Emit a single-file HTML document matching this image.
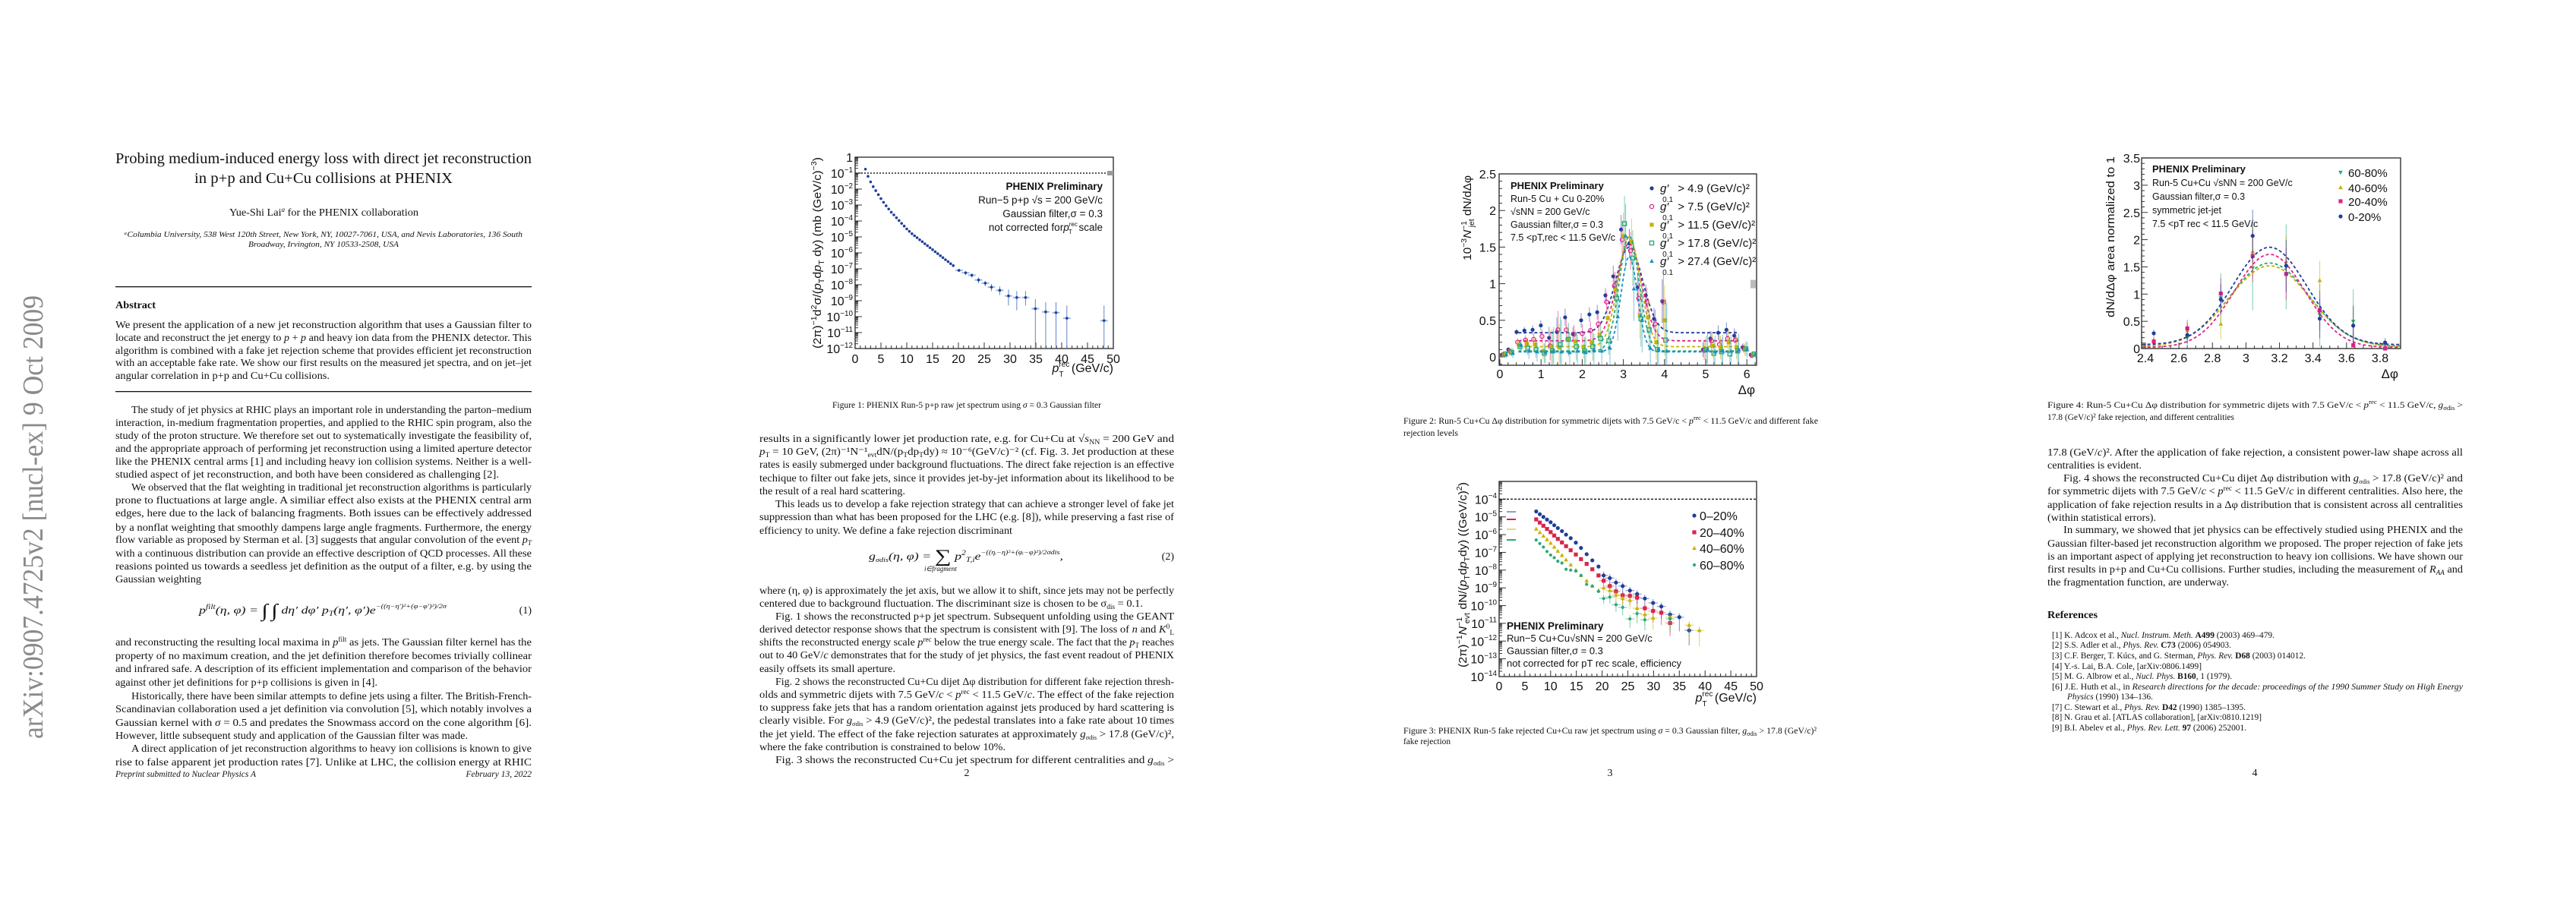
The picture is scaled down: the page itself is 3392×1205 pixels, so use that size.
<!DOCTYPE html>
<html><head><meta charset="utf-8"><title>Probing medium-induced energy loss with direct jet reconstruction</title>
<style>
html,body{margin:0;padding:0;background:#fff;}
body{width:3392px;height:1200px;overflow:hidden;}
svg text{font-family:"Liberation Serif",serif;fill:#111;}
.b{font-size:14px;}
.cap{font-size:12px;}
.ref{font-size:11.5px;}
.sans{font-family:"Liberation Sans",sans-serif !important;}
.it{font-style:italic;}
.bd{font-weight:bold;}
</style></head>
<body>
<svg id="doc" width="3392" height="1200" viewBox="0 0 3392 1200" xmlns="http://www.w3.org/2000/svg">
<rect x="0" y="0" width="3392" height="1200" fill="#fff"/>

<!-- arXiv stamp -->
<text transform="translate(56,973) rotate(-90)" style="font-size:38px;fill:#8a8a8a" textLength="584" lengthAdjust="spacingAndGlyphs">arXiv:0907.4725v2  [nucl-ex]  9 Oct 2009</text>

<!-- PAGE 1 -->
<g>
<text x="152" y="215" style="font-size:20px" textLength="548" lengthAdjust="spacingAndGlyphs">Probing medium-induced energy loss with direct jet reconstruction</text>
<text x="256" y="241" style="font-size:20px" textLength="340" lengthAdjust="spacingAndGlyphs">in p+p and Cu+Cu collisions at PHENIX</text>
<text x="302" y="284" class="b" textLength="249" lengthAdjust="spacingAndGlyphs">Yue-Shi Lai<tspan class="it" font-size="9" dy="-5">a</tspan><tspan dy="5"> for the PHENIX collaboration</tspan></text>
<text x="163" y="312" class="it" style="font-size:11px" textLength="525" lengthAdjust="spacingAndGlyphs">ᵃColumbia University, 538 West 120th Street, New York, NY, 10027-7061, USA, and Nevis Laboratories, 136 South</text>
<text x="327" y="325" class="it" style="font-size:11px" textLength="198" lengthAdjust="spacingAndGlyphs">Broadway, Irvington, NY 10533-2508, USA</text>
<rect x="152" y="377" width="548" height="1.3" fill="#111"/>
<text x="152" y="406" class="b bd" textLength="53" lengthAdjust="spacingAndGlyphs">Abstract</text>
<text x="152" y="432" class="b" textLength="548" lengthAdjust="spacingAndGlyphs">We present the application of a new jet reconstruction algorithm that uses a Gaussian filter to</text>
<text x="152" y="449" class="b" textLength="548" lengthAdjust="spacingAndGlyphs">locate and reconstruct the jet energy to <tspan class="it">p</tspan> + <tspan class="it">p</tspan> and heavy ion data from the PHENIX detector. This</text>
<text x="152" y="466" class="b" textLength="548" lengthAdjust="spacingAndGlyphs">algorithm is combined with a fake jet rejection scheme that provides efficient jet reconstruction</text>
<text x="152" y="482" class="b" textLength="548" lengthAdjust="spacingAndGlyphs">with an acceptable fake rate. We show our first results on the measured jet spectra, and on jet–jet</text>
<text x="152" y="499" class="b" textLength="282" lengthAdjust="spacingAndGlyphs">angular correlation in p+p and Cu+Cu collisions.</text>
<rect x="152" y="515" width="548" height="1.3" fill="#111"/>

<text x="173" y="544" class="b" textLength="527" lengthAdjust="spacingAndGlyphs">The study of jet physics at RHIC plays an important role in understanding the parton–medium</text>
<text x="152" y="561" class="b" textLength="548" lengthAdjust="spacingAndGlyphs">interaction, in-medium fragmentation properties, and applied to the RHIC spin program, also the</text>
<text x="152" y="578" class="b" textLength="548" lengthAdjust="spacingAndGlyphs">study of the proton structure. We therefore set out to systematically investigate the feasibility of,</text>
<text x="152" y="595" class="b" textLength="548" lengthAdjust="spacingAndGlyphs">and the appropriate approach of performing jet reconstruction using a limited aperture detector</text>
<text x="152" y="612" class="b" textLength="548" lengthAdjust="spacingAndGlyphs">like the PHENIX central arms [1] and including heavy ion collision systems. Neither is a well-</text>
<text x="152" y="629" class="b" textLength="505" lengthAdjust="spacingAndGlyphs">studied aspect of jet reconstruction, and both have been considered as challenging [2].</text>
<text x="173" y="646" class="b" textLength="527" lengthAdjust="spacingAndGlyphs">We observed that the flat weighting in traditional jet reconstruction algorithms is particularly</text>
<text x="152" y="663" class="b" textLength="548" lengthAdjust="spacingAndGlyphs">prone to fluctuations at large angle.  A similiar effect also exists at the PHENIX central arm</text>
<text x="152" y="680" class="b" textLength="548" lengthAdjust="spacingAndGlyphs">edges, here due to the lack of balancing fragments.  Both issues can be effectively addressed</text>
<text x="152" y="699" class="b" textLength="548" lengthAdjust="spacingAndGlyphs">by a nonflat weighting that smoothly dampens large angle fragments.  Furthermore, the energy</text>
<text x="152" y="715" class="b" textLength="548" lengthAdjust="spacingAndGlyphs">flow variable as proposed by Sterman et al. [3] suggests that angular convolution of the event <tspan class="it">p<tspan font-size="9" dy="3">T</tspan></tspan></text>
<text x="152" y="733" class="b" textLength="548" lengthAdjust="spacingAndGlyphs">with a continuous distribution can provide an effective description of QCD processes.  All these</text>
<text x="152" y="750" class="b" textLength="548" lengthAdjust="spacingAndGlyphs">reasions pointed us towards a seedless jet definition as the output of a filter, e.g.  by using the</text>
<text x="152" y="767" class="b" textLength="113" lengthAdjust="spacingAndGlyphs">Gaussian weighting</text>
<text x="262" y="808" class="b it" textLength="326" lengthAdjust="spacingAndGlyphs">p<tspan font-size="9" dy="-6">filt</tspan><tspan dy="6">(η, φ) = </tspan><tspan font-size="24" dy="4">∫</tspan><tspan dy="-4">  </tspan><tspan font-size="24" dy="4">∫</tspan><tspan dy="-4"> dη′ dφ′ p</tspan><tspan font-size="9" dy="3">T</tspan><tspan dy="-3">(η′, φ′)e</tspan><tspan font-size="8" dy="-7">−((η−η′)²+(φ−φ′)²)/2σ</tspan></text>
<text x="700" y="808" class="b" text-anchor="end">(1)</text>
<text x="152" y="850" class="b" textLength="548" lengthAdjust="spacingAndGlyphs">and reconstructing the resulting local maxima in <tspan class="it">p</tspan><tspan font-size="9" dy="-5">filt</tspan><tspan dy="5"> as jets.  The Gaussian filter kernel has the</tspan></text>
<text x="152" y="868" class="b" textLength="548" lengthAdjust="spacingAndGlyphs">property of no maximum creation, and the jet definition therefore becomes trivially collinear</text>
<text x="152" y="885" class="b" textLength="548" lengthAdjust="spacingAndGlyphs">and infrared safe.  A description of its efficient implementation and comparison of the behavior</text>
<text x="152" y="903" class="b" textLength="345" lengthAdjust="spacingAndGlyphs">against other jet definitions for p+p collisions is given in [4].</text>
<text x="173" y="921" class="b" textLength="527" lengthAdjust="spacingAndGlyphs">Historically, there have been similar attempts to define jets using a filter. The British-French-</text>
<text x="152" y="938" class="b" textLength="548" lengthAdjust="spacingAndGlyphs">Scandinavian collaboration used a jet definition via convolution [5], which notably involves a</text>
<text x="152" y="956" class="b" textLength="548" lengthAdjust="spacingAndGlyphs">Gaussian kernel with <tspan class="it">σ</tspan> = 0.5 and predates the Snowmass accord on the cone algorithm [6].</text>
<text x="152" y="973" class="b" textLength="464" lengthAdjust="spacingAndGlyphs">However, little subsequent study and application of the Gaussian filter was made.</text>
<text x="173" y="990" class="b" textLength="527" lengthAdjust="spacingAndGlyphs">A direct application of jet reconstruction algorithms to heavy ion collisions is known to give</text>
<text x="152" y="1008" class="b" textLength="548" lengthAdjust="spacingAndGlyphs">rise to false apparent jet production rates [7].  Unlike at LHC, the collision energy at RHIC</text>
<text x="152" y="1023" class="it" style="font-size:11.5px" textLength="185" lengthAdjust="spacingAndGlyphs">Preprint submitted to Nuclear Physics A</text>
<text x="700" y="1023" class="it" style="font-size:11.5px" text-anchor="end">February 13, 2022</text>
</g>

<!-- PAGE 2 -->
<g>
<g id="fig1"></g>
<text x="1096" y="537" class="cap" textLength="354" lengthAdjust="spacingAndGlyphs">Figure 1: PHENIX Run-5 p+p raw jet spectrum using <tspan class="it">σ</tspan> = 0.3 Gaussian filter</text>
<text x="1000" y="582" class="b" textLength="546" lengthAdjust="spacingAndGlyphs">results in a significantly lower jet production rate, e.g.  for Cu+Cu at √<tspan class="it">s</tspan><tspan font-size="9" dy="3">NN</tspan><tspan dy="-3"> = 200 GeV and</tspan></text>
<text x="1000" y="599" class="b" textLength="546" lengthAdjust="spacingAndGlyphs"><tspan class="it">p</tspan><tspan font-size="9" dy="3">T</tspan><tspan dy="-3"> = 10 GeV, (2π)⁻¹N⁻¹</tspan><tspan font-size="9" dy="3">evt</tspan><tspan dy="-3">dN/(p</tspan><tspan font-size="9" dy="3">T</tspan><tspan dy="-3">dp</tspan><tspan font-size="9" dy="3">T</tspan><tspan dy="-3">dy) ≈ 10⁻⁶(GeV/c)⁻² (cf. Fig. 3.  Jet production at these</tspan></text>
<text x="1000" y="616" class="b" textLength="546" lengthAdjust="spacingAndGlyphs">rates is easily submerged under background fluctuations. The direct fake rejection is an effective</text>
<text x="1000" y="634" class="b" textLength="546" lengthAdjust="spacingAndGlyphs">techique to filter out fake jets, since it provides jet-by-jet information about its likelihood to be</text>
<text x="1000" y="651" class="b" textLength="192" lengthAdjust="spacingAndGlyphs">the result of a real hard scattering.</text>
<text x="1021" y="668" class="b" textLength="525" lengthAdjust="spacingAndGlyphs">This leads us to develop a fake rejection strategy that can achieve a stronger level of fake jet</text>
<text x="1000" y="685" class="b" textLength="546" lengthAdjust="spacingAndGlyphs">suppression than what has been proposed for the LHC (e.g. [8]), while preserving a fast rise of</text>
<text x="1000" y="703" class="b" textLength="333" lengthAdjust="spacingAndGlyphs">efficiency to unity. We define a fake rejection discriminant</text>
<text x="1144" y="737" class="b it" textLength="256" lengthAdjust="spacingAndGlyphs">g<tspan font-size="8" dy="3">σdis</tspan><tspan dy="-3">(η, φ) =   </tspan><tspan font-size="24" dy="3">∑</tspan><tspan dy="-3">   p</tspan><tspan font-size="9" dy="-6">2</tspan><tspan font-size="9" dy="9">T,i</tspan><tspan dy="-3">e</tspan><tspan font-size="8" dy="-7">−((ηᵢ−η)²+(φᵢ−φ)²)/2σdis</tspan><tspan dy="7">,</tspan></text>
<text x="1217" y="752" class="it" style="font-size:9px">i∈fragment</text>
<text x="1546" y="737" class="b" text-anchor="end">(2)</text>
<text x="1000" y="782" class="b" textLength="546" lengthAdjust="spacingAndGlyphs">where (η, φ) is approximately the jet axis, but we allow it to shift, since jets may not be perfectly</text>
<text x="1000" y="799" class="b" textLength="505" lengthAdjust="spacingAndGlyphs">centered due to background fluctuation. The discriminant size is chosen to be σ<tspan font-size="9" dy="3">dis</tspan><tspan dy="-3"> = 0.1.</tspan></text>
<text x="1021" y="816" class="b" textLength="525" lengthAdjust="spacingAndGlyphs">Fig. 1 shows the reconstructed p+p jet spectrum.  Subsequent unfolding using the GEANT</text>
<text x="1000" y="833" class="b" textLength="546" lengthAdjust="spacingAndGlyphs">derived detector response shows that the spectrum is consistent with [9]. The loss of <tspan class="it">n</tspan> and <tspan class="it">K</tspan><tspan font-size="9" dy="-5">0</tspan><tspan font-size="9" dy="8">L</tspan></text>
<text x="1000" y="850" class="b" textLength="546" lengthAdjust="spacingAndGlyphs">shifts the reconstructed energy scale <tspan class="it">p</tspan><tspan font-size="9" dy="-5">rec</tspan><tspan dy="5"> below the true energy scale. The fact that the </tspan><tspan class="it">p</tspan><tspan font-size="9" dy="3">T</tspan><tspan dy="-3"> reaches</tspan></text>
<text x="1000" y="867" class="b" textLength="546" lengthAdjust="spacingAndGlyphs">out to 40 GeV/<tspan class="it">c</tspan> demonstrates that for the study of jet physics, the fast event readout of PHENIX</text>
<text x="1000" y="885" class="b" textLength="179" lengthAdjust="spacingAndGlyphs">easily offsets its small aperture.</text>
<text x="1021" y="902" class="b" textLength="525" lengthAdjust="spacingAndGlyphs">Fig. 2 shows the reconstructed Cu+Cu dijet Δφ distribution for different fake rejection thresh-</text>
<text x="1000" y="919" class="b" textLength="546" lengthAdjust="spacingAndGlyphs">olds and symmetric dijets with 7.5 GeV/<tspan class="it">c</tspan> &lt; <tspan class="it">p</tspan><tspan font-size="9" dy="-5">rec</tspan><tspan dy="5"> &lt; 11.5 GeV/</tspan><tspan class="it">c</tspan>. The effect of the fake rejection</text>
<text x="1000" y="936" class="b" textLength="546" lengthAdjust="spacingAndGlyphs">to suppress fake jets that has a random orientation against jets produced by hard scattering is</text>
<text x="1000" y="953" class="b" textLength="546" lengthAdjust="spacingAndGlyphs">clearly visible.  For <tspan class="it">g</tspan><tspan font-size="8" dy="3">σdis</tspan><tspan dy="-3"> &gt; 4.9 (GeV/c)², the pedestal translates into a fake rate about 10 times</tspan></text>
<text x="1000" y="971" class="b" textLength="546" lengthAdjust="spacingAndGlyphs">the jet yield.  The effect of the fake rejection saturates at approximately <tspan class="it">g</tspan><tspan font-size="8" dy="3">σdis</tspan><tspan dy="-3"> &gt; 17.8 (GeV/c)²,</tspan></text>
<text x="1000" y="988" class="b" textLength="324" lengthAdjust="spacingAndGlyphs">where the fake contribution is constrained to below 10%.</text>
<text x="1021" y="1005" class="b" textLength="525" lengthAdjust="spacingAndGlyphs">Fig. 3 shows the reconstructed Cu+Cu jet spectrum for different centralities and <tspan class="it">g</tspan><tspan font-size="8" dy="3">σdis</tspan><tspan dy="-3">  &gt;</tspan></text>
<text x="1273" y="1022" class="b" text-anchor="middle">2</text>
</g>

<!-- PAGE 3 -->
<g>
<g id="fig2"></g>
<text x="1848" y="558" class="cap" textLength="546" lengthAdjust="spacingAndGlyphs">Figure 2:  Run-5 Cu+Cu Δφ distribution for symmetric dijets with 7.5 GeV/c &lt; <tspan class="it">p</tspan><tspan font-size="8" dy="-5">rec</tspan><tspan dy="5"> &lt; 11.5 GeV/c and different fake</tspan></text>
<text x="1848" y="574" class="cap" textLength="72" lengthAdjust="spacingAndGlyphs">rejection levels</text>
<g id="fig3"></g>
<text x="1848" y="966" class="cap" textLength="544" lengthAdjust="spacingAndGlyphs">Figure 3: PHENIX Run-5 fake rejected Cu+Cu raw jet spectrum using <tspan class="it">σ</tspan> = 0.3 Gaussian filter, <tspan class="it">g</tspan><tspan font-size="8" dy="3">σdis</tspan><tspan dy="-3"> &gt; 17.8 (GeV/c)²</tspan></text>
<text x="1848" y="980" class="cap" textLength="62" lengthAdjust="spacingAndGlyphs">fake rejection</text>
<text x="2120" y="1022" class="b" text-anchor="middle">3</text>
</g>

<!-- PAGE 4 -->
<g>
<g id="fig4"></g>
<text x="2696" y="537" class="cap" textLength="547" lengthAdjust="spacingAndGlyphs">Figure 4:  Run-5 Cu+Cu Δφ distribution for symmetric dijets with 7.5 GeV/c  &lt;  <tspan class="it">p</tspan><tspan font-size="8" dy="-5">rec</tspan><tspan dy="5">  &lt;  11.5 GeV/c,  </tspan><tspan class="it">g</tspan><tspan font-size="8" dy="3">σdis</tspan><tspan dy="-3">  &gt;</tspan></text>
<text x="2696" y="553" class="cap" textLength="246" lengthAdjust="spacingAndGlyphs">17.8 (GeV/c)² fake rejection, and different centralities</text>
<text x="2696" y="600" class="b" textLength="547" lengthAdjust="spacingAndGlyphs">17.8 (GeV/<tspan class="it">c</tspan>)².  After the application of fake rejection, a consistent power-law shape across all</text>
<text x="2696" y="617" class="b" textLength="124" lengthAdjust="spacingAndGlyphs">centralities is evident.</text>
<text x="2717" y="634" class="b" textLength="526" lengthAdjust="spacingAndGlyphs">Fig. 4 shows the reconstructed Cu+Cu dijet Δφ distribution with <tspan class="it">g</tspan><tspan font-size="8" dy="3">σdis</tspan><tspan dy="-3"> &gt; 17.8 (GeV/c)² and</tspan></text>
<text x="2696" y="651" class="b" textLength="547" lengthAdjust="spacingAndGlyphs">for symmetric dijets with 7.5 GeV/<tspan class="it">c</tspan> &lt; <tspan class="it">p</tspan><tspan font-size="9" dy="-5">rec</tspan><tspan dy="5"> &lt; 11.5 GeV/</tspan><tspan class="it">c</tspan> in different centralities.  Also here, the</text>
<text x="2696" y="669" class="b" textLength="547" lengthAdjust="spacingAndGlyphs">application of fake rejection results in a Δφ distribution that is consistent across all centralities</text>
<text x="2696" y="686" class="b" textLength="143" lengthAdjust="spacingAndGlyphs">(within statistical errors).</text>
<text x="2717" y="702" class="b" textLength="526" lengthAdjust="spacingAndGlyphs">In summary, we showed that jet physics can be effectively studied using PHENIX and the</text>
<text x="2696" y="720" class="b" textLength="547" lengthAdjust="spacingAndGlyphs">Gaussian filter-based jet reconstruction algorithm we proposed. The proper rejection of fake jets</text>
<text x="2696" y="737" class="b" textLength="547" lengthAdjust="spacingAndGlyphs">is an important aspect of applying jet reconstruction to heavy ion collisions. We have shown our</text>
<text x="2696" y="754" class="b" textLength="547" lengthAdjust="spacingAndGlyphs">first results in p+p and Cu+Cu collisions. Further studies, including the measurement of <tspan class="it">R</tspan><tspan font-size="9" dy="3" class="it">AA</tspan><tspan dy="-3"> and</tspan></text>
<text x="2696" y="771" class="b" textLength="239" lengthAdjust="spacingAndGlyphs">the fragmentation function, are underway.</text>
<text x="2696" y="814" class="b bd" textLength="66" lengthAdjust="spacingAndGlyphs">References</text>
<text x="2702" y="840" class="ref" textLength="293" lengthAdjust="spacingAndGlyphs">[1]  K. Adcox et al., <tspan class="it">Nucl. Instrum. Meth.</tspan> <tspan class="bd">A499</tspan> (2003) 469–479.</text>
<text x="2702" y="853" class="ref" textLength="236" lengthAdjust="spacingAndGlyphs">[2]  S.S. Adler et al., <tspan class="it">Phys. Rev.</tspan> <tspan class="bd">C73</tspan> (2006) 054903.</text>
<text x="2702" y="867" class="ref" textLength="334" lengthAdjust="spacingAndGlyphs">[3]  C.F. Berger, T. Kúcs, and G. Sterman, <tspan class="it">Phys. Rev.</tspan> <tspan class="bd">D68</tspan> (2003) 014012.</text>
<text x="2702" y="881" class="ref" textLength="197" lengthAdjust="spacingAndGlyphs">[4]  Y.-s. Lai, B.A. Cole, [arXiv:0806.1499]</text>
<text x="2702" y="894" class="ref" textLength="237" lengthAdjust="spacingAndGlyphs">[5]  M. G. Albrow et al., <tspan class="it">Nucl. Phys.</tspan> <tspan class="bd">B160</tspan>, 1 (1979).</text>
<text x="2702" y="908" class="ref" textLength="541" lengthAdjust="spacingAndGlyphs">[6]  J.E. Huth et al., in <tspan class="it">Research directions for the decade: proceedings of the 1990 Summer Study on High Energy</tspan></text>
<text x="2722" y="921" class="ref" textLength="113" lengthAdjust="spacingAndGlyphs"><tspan class="it">Physics</tspan> (1990) 134–136.</text>
<text x="2702" y="935" class="ref" textLength="255" lengthAdjust="spacingAndGlyphs">[7]  C. Stewart et al., <tspan class="it">Phys. Rev.</tspan> <tspan class="bd">D42</tspan> (1990) 1385–1395.</text>
<text x="2702" y="948" class="ref" textLength="276" lengthAdjust="spacingAndGlyphs">[8]  N. Grau et al. [ATLAS collaboration], [arXiv:0810.1219]</text>
<text x="2702" y="962" class="ref" textLength="256" lengthAdjust="spacingAndGlyphs">[9]  B.I. Abelev et al., <tspan class="it">Phys. Rev. Lett.</tspan> <tspan class="bd">97</tspan> (2006) 252001.</text>
<text x="2969" y="1022" class="b" text-anchor="middle">4</text>
</g>
</svg>

<script>
// ===== Figure 1 data: p+p raw jet spectrum (log10 of yield) =====
const f1DenseX = [2,2.5,3,3.5,4,4.5,5,5.5,6,6.5,7,7.5,8,8.5,9,9.5,10,10.5,11,11.5,12,12.5,13,13.5,14,14.5,15,15.5,16,16.5,17,17.5,18,18.5,19];
const f1DenseLog = [-0.75,-1.2,-1.55,-1.85,-2.1,-2.35,-2.6,-2.83,-3.05,-3.25,-3.45,-3.62,-3.8,-3.97,-4.15,-4.32,-4.5,-4.65,-4.8,-4.93,-5.05,-5.18,-5.3,-5.43,-5.55,-5.68,-5.8,-5.93,-6.05,-6.18,-6.3,-6.43,-6.55,-6.68,-6.8];
const f1SparseX = [20.1,21.4,22.6,23.9,25.2,26.4,28,29.7,31.3,33,34.9,36.9,38.9,41,48.2];
const f1SparseLog = [-7.1,-7.25,-7.4,-7.7,-7.9,-8.15,-8.35,-8.7,-8.8,-8.8,-9.5,-9.7,-9.75,-10.1,-10.25];
const f1SparseHi = [-7.0,-7.15,-7.3,-7.55,-7.75,-7.95,-8.1,-8.3,-8.4,-8.4,-8.9,-9.1,-9.1,-9.3,-9.3];
const f1SparseLo = [-7.2,-7.4,-7.55,-7.9,-8.1,-8.4,-8.65,-9.3,-9.6,-9.3,-12,-12,-12,-12,-12];
const f1XTicks = [0,5,10,15,20,25,30,35,40,45,50];
const f1YDecades = [0,-1,-2,-3,-4,-5,-6,-7,-8,-9,-10,-11,-12];

// ===== Figure 2 data: Cu+Cu delta-phi for fake rejection thresholds =====
const f2X = [0.1,0.26,0.46,0.65,0.85,1.05,1.25,1.44,1.64,1.83,2.03,2.23,2.42,2.62,2.81,3.0,3.2,3.4,3.6,3.8,4.0,4.99,5.17,5.36,5.56,5.75,5.95,6.15];
const f2Blue = [0.03,0.1,0.34,0.36,0.37,0.43,0.26,0.34,0.54,0.31,0.5,0.58,0.61,0.84,1.1,1.74,1.55,0.95,0.84,0.52,0.76,0.1,0.25,0.33,0.37,0.29,0.13,0.03];
const f2Magenta = [0.03,0.08,0.2,0.23,0.24,0.28,0.15,0.37,0.37,0.31,0.32,0.36,0.45,0.75,0.97,1.6,1.45,0.8,0.75,0.45,0.75,0.09,0.22,0.17,0.25,0.23,0.12,0.02];
const f2Yellow = [0.03,0.07,0.17,0.18,0.17,0.08,0.14,0.13,0.24,0.21,0.14,0.2,0.3,0.53,0.92,1.65,1.57,0.57,0.54,0.2,0.5,0.09,0.15,0.13,0.2,0.13,0.1,0.03];
const f2Green = [0.04,0.06,0.14,0.12,0.1,0.05,0.08,0.17,0.24,0.14,0.08,0.14,0.25,0.22,0.8,1.82,1.35,0.52,0.37,0.1,0.23,0.1,0.05,0.07,0.04,0.08,0.11,0.04];
const f2Cyan = [0.03,0.05,0.16,0.08,0.07,0.06,0.08,0.07,0.06,0.08,0.06,0.1,0.08,0.12,0.55,1.65,0.93,0.5,0.12,0.1,0.08,0.1,0.07,0.08,0.08,0.1,0.1,0.03];
const f2Err = [0.02,0.03,0.04,0.05,0.06,0.07,0.15,0.2,0.12,0.1,0.1,0.1,0.1,0.1,0.15,0.2,0.2,0.2,0.15,0.15,0.3,0.1,0.1,0.1,0.1,0.1,0.05,0.02];
const f2FitPed = [0.33,0.22,0.14,0.08,0.07];
const f2FitAmp = [1.17,1.33,1.5,1.57,1.3];
const f2FitSig = [0.33,0.3,0.27,0.24,0.2];
const f2Labels = ["> 4.9 (GeV/c)²","> 7.5 (GeV/c)²","> 11.5 (GeV/c)²","> 17.8 (GeV/c)²","> 27.4 (GeV/c)²"];
const f2XTicks = [0,1,2,3,4,5,6];
const f2YTicks = [0,0.5,1,1.5,2,2.5];

// ===== Figure 3 data: Cu+Cu spectra by centrality (log10) =====
const f3X = [7.2,7.9,8.6,9.3,10,10.7,11.4,12.2,13,13.9,14.9,15.9,17,18.1,19.3,20.3,21.5,22.7,24,25.4,26.8,28.3,29.9,31.5,33.2,35,36.9,38.9];
const f3Blue = [-4.69,-4.85,-5.0,-5.15,-5.3,-5.47,-5.63,-5.8,-6.0,-6.2,-6.45,-6.75,-7.1,-7.45,-7.8,-8.3,-8.45,-8.7,-8.9,-9.15,-9.35,-9.6,-9.85,-10.05,-10.5,-10.65,-11.4,null];
const f3Red = [-5.14,-5.32,-5.5,-5.68,-5.86,-6.05,-6.24,-6.44,-6.65,-6.88,-7.12,-7.38,-7.65,-7.95,-8.3,-8.6,-8.9,-9.2,-9.42,-9.45,-9.55,-10.15,-10.3,-10.4,-10.98,null,null,null];
const f3Yellow = [-5.68,-5.88,-6.08,-6.28,-6.48,-6.7,-6.93,-7.17,-7.42,-7.7,-8.0,-8.3,-8.6,-8.9,-9.15,-9.0,-9.15,-9.4,-9.6,-9.7,-10.15,-10.5,-10.7,null,-10.65,null,-11.1,-11.4];
const f3Green = [-6.3,-6.5,-6.7,-6.95,-7.15,-7.3,-7.5,-7.6,-7.95,-8.0,-8.05,-8.3,-8.8,-8.9,-9.2,-9.6,-9.52,-9.95,-10.1,-10.75,-10.45,-10.8,null,null,-10.75,null,null,null];
const f3Labels = ["0–20%","20–40%","40–60%","60–80%"];
const f3XTicks = [0,5,10,15,20,25,30,35,40,45,50];
const f3YDecades = [-4,-5,-6,-7,-8,-9,-10,-11,-12,-13,-14];

// ===== Figure 4 data: delta-phi by centrality, area normalized =====
const f4X = [2.45,2.65,2.85,3.04,3.24,3.44,3.64,3.83];
const f4Green = [0.1,0.2,0.93,1.48,1.5,0.62,0.5,0.0];
const f4Yellow = [0.15,0.33,0.45,1.78,1.6,1.25,0.45,0.0];
const f4Magenta = [0.13,0.37,1.01,1.7,1.37,0.7,0.06,0.0];
const f4Blue = [0.28,0.25,0.9,2.07,1.52,0.55,0.42,0.11];
const f4Err = [0.08,0.2,0.35,0.6,0.6,0.45,0.45,0.1];
const f4FitPed = [0.04,0.03,0.02,0.07];
const f4FitAmp = [1.53,1.49,1.71,1.79];
const f4FitSig = [0.235,0.24,0.21,0.22];
const f4Labels = ["60-80%","40-60%","20-40%","0-20%"];
const f4XTicks = [2.4,2.6,2.8,3,3.2,3.4,3.6,3.8];
const f4YTicks = [0,0.5,1,1.5,2,2.5,3,3.5];

const NS = "http://www.w3.org/2000/svg";
const BLUE="#1d3e9c", MAG="#e0228a", YEL="#c8b200", GRN="#2aa877", CYAN="#1b90c4", RED="#d8254c", PINK="#e0228a";

function mk(tag, attrs, parent){
  const e = document.createElementNS(NS, tag);
  for (const k in attrs) e.setAttribute(k, attrs[k]);
  parent.appendChild(e);
  return e;
}
function txt(parent, x, y, s, size, anchor, extra){
  const t = mk("text", Object.assign({x:x, y:y, "font-size":size, "text-anchor":anchor||"start", "class":"sans"}, extra||{}), parent);
  t.textContent = s;
  return t;
}
function supLabel(parent, x, y, base, sup, size){
  const t = mk("text", {x:x, y:y, "font-size":size, "text-anchor":"end", "class":"sans"}, parent);
  t.appendChild(document.createTextNode(base));
  if (sup !== null) {
    const s = mk("tspan", {"font-size":size*0.62, dy:-size*0.45}, t);
    s.textContent = sup;
  }
  return t;
}
function marker(parent, shape, cx, cy, r, color){
  let m;
  if (shape==="circle") m = mk("circle",{cx:cx,cy:cy,r:r,fill:color},parent);
  else if (shape==="ocircle") m = mk("circle",{cx:cx,cy:cy,r:r,fill:"none",stroke:color,"stroke-width":1.3},parent);
  else if (shape==="square") m = mk("rect",{x:cx-r,y:cy-r,width:2*r,height:2*r,fill:color},parent);
  else if (shape==="osquare") m = mk("rect",{x:cx-r,y:cy-r,width:2*r,height:2*r,fill:"none",stroke:color,"stroke-width":1.3},parent);
  else if (shape==="tri") m = mk("polygon",{points:`${cx},${cy-r*1.2} ${cx-r*1.1},${cy+r*0.8} ${cx+r*1.1},${cy+r*0.8}`,fill:color},parent);
  else if (shape==="star") m = mk("circle",{cx:cx,cy:cy,r:r*0.8,fill:color},parent);
  else m = mk("polygon",{points:`${cx},${cy+r*1.2} ${cx-r*1.1},${cy-r*0.8} ${cx+r*1.1},${cy-r*0.8}`,fill:color},parent);
  return m;
}
function frame(parent, x0, y0, x1, y1){
  const f = mk("rect",{x:x0,y:y0,width:x1-x0,height:y1-y0,fill:"none",stroke:"#333","stroke-width":1.4},parent);
  
  
}

// ---------------- Figure 1 ----------------
(function(){
  const g = document.getElementById("fig1");
  const X0=1126, X1=1466, Y0=207, Y1=459;
  const xs = v => X0 + v*(X1-X0)/50;
  const ys = lg => Y0 + (0 - lg)*(Y1-Y0)/12;
  frame(g, X0, Y0, X1, Y1);
  const ax = mk("g",{stroke:"#333","stroke-width":1},g);
  
  
  for (let v=0; v<=50; v+=1){ const L = (v%5===0)?8:4; mk("line",{x1:xs(v),x2:xs(v),y1:Y1,y2:Y1-L},ax); }
  for (const v of f1XTicks){
    const t = txt(g, xs(v), 478, String(v), 16, "middle");
    
    
  }
  const ay = mk("g",{stroke:"#333","stroke-width":1},g);
  
  
  for (const d of f1YDecades){
    mk("line",{x1:X0,x2:X0+9,y1:ys(d),y2:ys(d)},ay);
    if (d>-12) for (let k=2;k<10;k++){ const yy = ys(d-1+Math.log10(k)); mk("line",{x1:X0,x2:X0+4,y1:yy,y2:yy},ay); }
    const lab = supLabel(g, X0-3, ys(d)+6, d===0?"1":"10", d===0?null:"−"+(-d), 16);
    
    
  }
  const yt = txt(g, 0, 0, "", 15, "middle", {transform:`translate(1081,333) rotate(-90)`, textLength:252, lengthAdjust:"spacingAndGlyphs"});
  yt.innerHTML = '(2π)<tspan font-size="10" dy="-6">−1</tspan><tspan dy="6">d</tspan><tspan font-size="10" dy="-6">2</tspan><tspan dy="6">σ/(</tspan><tspan font-style="italic">p</tspan><tspan font-size="10" dy="4">T</tspan><tspan dy="-4">d</tspan><tspan font-style="italic">p</tspan><tspan font-size="10" dy="4">T</tspan><tspan dy="-4"> dy) (mb (GeV/c)</tspan><tspan font-size="10" dy="-6">−3</tspan><tspan dy="6">)</tspan>';
  
  
  const xt = txt(g, X1, 490, "", 16, "end");
  xt.innerHTML = '<tspan font-style="italic">p</tspan><tspan font-size="10" dy="-7">rec</tspan><tspan font-size="10" dx="-14" dy="13">T</tspan><tspan dy="-6" dx="6"> (GeV/c)</tspan>';
  
  
  const ref = mk("line",{x1:X0,x2:X1,y1:ys(-1),y2:ys(-1),stroke:"#222","stroke-width":1.6,"stroke-dasharray":"2 2"},g);
  
  
  const gb = mk("rect",{x:X1-8,y:ys(-1)-3,width:8,height:6,fill:"#999"},g);
  
  
  const l1 = txt(g, 1452, 250, "PHENIX Preliminary", 13.5, "end", {fill:PINK, "font-weight":"bold"});
  
  
  const l2 = txt(g, 1452, 268, "Run−5 p+p √s = 200 GeV/c", 13.5, "end", {fill:"#222"});
  
  
  const l3 = txt(g, 1452, 286, "Gaussian filter,σ = 0.3", 13.5, "end", {fill:"#222"});
  
  
  const l4 = txt(g, 1452, 304, "not corrected for p", 13.5, "end", {fill:"#222"});
  l4.innerHTML = 'not corrected for<tspan font-style="italic">p</tspan><tspan font-size="8" dy="-6">rec</tspan><tspan font-size="8" dx="-12" dy="10">T</tspan><tspan dy="-4" dx="5"> scale</tspan>';
  
  
  const pts = mk("g",{},g);
  
  
  f1DenseX.forEach((x,i)=>{
    const c = mk("circle",{cx:xs(x),cy:ys(f1DenseLog[i]),r:1.8,fill:BLUE},pts);
    
    
  });
  f1SparseX.forEach((x,i)=>{
    const e1 = mk("line",{x1:xs(x),x2:xs(x),y1:ys(f1SparseHi[i]),y2:ys(f1SparseLo[i]),stroke:"#5d86c8","stroke-width":1},pts);
    
    
    const e2 = mk("line",{x1:xs(x)-5,x2:xs(x)+5,y1:ys(f1SparseLog[i]),y2:ys(f1SparseLog[i]),stroke:"#9dbbe4","stroke-width":2},pts);
    
    
    const c = mk("circle",{cx:xs(x),cy:ys(f1SparseLog[i]),r:1.8,fill:BLUE},pts);
    
    
  });
})();

// ---------------- Figure 2 ----------------
(function(){
  const g = document.getElementById("fig2");
  const X0=1974, X1=2313, Y0=229, Y1=481;
  const xs = v => 1975 + v*54.2;
  const ys = v => 470 - v*96.4;
  frame(g, X0, Y0, X1, Y1);
  const ax = mk("g",{stroke:"#333","stroke-width":1},g);
  
  
  for (let k=0; k<=31; k++){ const v=k*0.2; if (xs(v)>X1) break; const L=(k%5===0)?8:4; mk("line",{x1:xs(v),x2:xs(v),y1:Y1,y2:Y1-L},ax); }
  for (const v of f2XTicks){
    const t = txt(g, xs(v), 498, String(v), 16, "middle");
    
    
  }
  for (let k=-1; k<=25; k++){ const v=k*0.1; const L=(k%5===0)?8:4; mk("line",{x1:X0,x2:X0+L,y1:ys(v),y2:ys(v)},ax); }
  for (const v of f2YTicks){
    const t = txt(g, 1970, ys(v)+6, String(v), 16, "end");
    
    
  }
  const yt = txt(g, 0, 0, "", 15, "middle", {transform:"translate(1937,287) rotate(-90)", textLength:112, lengthAdjust:"spacingAndGlyphs"});
  yt.innerHTML = '10<tspan font-size="10" dy="-6">−3</tspan><tspan dy="6" font-style="italic">N</tspan><tspan font-size="10" dy="-6">−1</tspan><tspan font-size="10" dx="-8" dy="10">jet</tspan><tspan dy="-4"> dN/dΔφ</tspan>';
  
  
  const xt = txt(g, 2311, 519, "Δφ", 17, "end");
  
  
  const gb = mk("rect",{x:X1-8,y:ys(1)-5,width:7,height:11,fill:"#bbb"},g);
  
  
  const info = ["Run-5 Cu + Cu 0-20%","√sNN = 200 GeV/c","Gaussian filter,σ = 0.3","7.5 <pT,rec < 11.5 GeV/c"];
  const h = txt(g, 1989, 249, "PHENIX Preliminary", 13, "start", {fill:PINK,"font-weight":"bold"});
  
  
  info.forEach((s,i)=>{
    const t = txt(g, 1989, 266+i*17, s, 12.5, "start", {fill:"#222"});
    
    
  });
  const colors = [BLUE, MAG, YEL, GRN, CYAN];
  const shapes = ["circle","ocircle","square","osquare","tri"];
  const series = [f2Blue, f2Magenta, f2Yellow, f2Green, f2Cyan];
  const offs = [-2,-1,0,1,2];
  series.forEach((vals, s)=>{
    const sg = mk("g",{},g);
    
    
    let d = "";
    for (let k=0; k<=200; k++){
      const x = 0.45 + k*(5.8-0.45)/200;
      const y = f2FitPed[s] + f2FitAmp[s]*Math.exp(-Math.pow(x-Math.PI,2)/(2*f2FitSig[s]*f2FitSig[s]));
      d += (k?"L":"M") + xs(x).toFixed(1) + "," + ys(y).toFixed(1);
    }
    const fit = mk("path",{d:d,fill:"none",stroke:colors[s],"stroke-width":1.8,"stroke-dasharray":"4 3"},sg);
    
    
    vals.forEach((v,i)=>{
      const cx = xs(f2X[i]) + offs[s]*1.5;
      const eb = mk("line",{x1:cx,x2:cx,y1:ys(v+f2Err[i]*(1+s*0.3)),y2:ys(Math.max(-0.1,v-f2Err[i]*(1+s*0.3))),stroke:colors[s],"stroke-width":1,"stroke-opacity":0.55},sg);
      
      
      const m = marker(sg, shapes[s], cx, ys(v), 2.6, colors[s]);
      
      
    });
  });
  const rows = [248,272,296,320,344];
  f2Labels.forEach((lab,i)=>{
    const lg = mk("g",{},g);
    
    
    marker(lg, shapes[i], 2175, rows[i], 2.6, colors[i]);
    const t = txt(lg, 2186, rows[i]+5, "", 15, "start", {fill:"#222"});
    t.innerHTML = '<tspan font-style="italic">g′</tspan><tspan font-size="10" dx="-8" dy="13">0.1</tspan><tspan dy="-13" dx="2"> ' + lab + '</tspan>';
  });
})();

// ---------------- Figure 3 ----------------
(function(){
  const g = document.getElementById("fig3");
  const X0=1974, X1=2313, Y0=634, Y1=891;
  const xs = v => X0 + v*(X1-X0)/50;
  const ys = lg => Y0 + (-3 - lg)*(Y1-Y0)/11;
  frame(g, X0, Y0, X1, Y1);
  const ax = mk("g",{stroke:"#333","stroke-width":1},g);
  
  
  for (let v=0; v<=50; v+=1){ const L=(v%5===0)?8:4; mk("line",{x1:xs(v),x2:xs(v),y1:Y1,y2:Y1-L},ax); }
  for (const v of f3XTicks){
    const t = txt(g, xs(v), 909, String(v), 16, "middle");
    
    
  }
  for (let d=-3; d>=-14; d--){
    mk("line",{x1:X0,x2:X0+9,y1:ys(d),y2:ys(d)},ax);
    if (d>-14) for (let k=2;k<10;k++){ const yy=ys(d-1+Math.log10(k)); mk("line",{x1:X0,x2:X0+4,y1:yy,y2:yy},ax); }
  }
  for (const d of f3YDecades){
    const lab = supLabel(g, 1971, ys(d)+6, "10", "−"+(-d), 16);
    
    
  }
  const yt = txt(g, 0, 0, "", 15, "middle", {transform:"translate(1931,757) rotate(-90)", textLength:244, lengthAdjust:"spacingAndGlyphs"});
  yt.innerHTML = '(2π)<tspan font-size="10" dy="-6">−1</tspan><tspan dy="6" font-style="italic">N</tspan><tspan font-size="10" dy="-6">−1</tspan><tspan font-size="10" dx="-8" dy="10">evt</tspan><tspan dy="-4"> dN/(</tspan><tspan font-style="italic">p</tspan><tspan font-size="10" dy="4">T</tspan><tspan dy="-4">d</tspan><tspan font-style="italic">p</tspan><tspan font-size="10" dy="4">T</tspan><tspan dy="-4">dy) ((GeV/c)</tspan><tspan font-size="10" dy="-6">2</tspan><tspan dy="6">)</tspan>';
  
  
  const xt = txt(g, X1, 924, "", 16, "end");
  xt.innerHTML = '<tspan font-style="italic">p</tspan><tspan font-size="10" dy="-7">rec</tspan><tspan font-size="10" dx="-14" dy="13">T</tspan><tspan dy="-6" dx="6"> (GeV/c)</tspan>';
  
  
  const ref = mk("line",{x1:X0,x2:X1,y1:ys(-4),y2:ys(-4),stroke:"#222","stroke-width":1.6,"stroke-dasharray":"3 2"},g);
  
  
  const colors = [BLUE, RED, YEL, GRN];
  const shapes = ["circle","square","tri","star"];
  const series = [f3Blue, f3Red, f3Yellow, f3Green];
  const dashY = [674,684,697,711];
  series.forEach((vals,s)=>{
    const sg = mk("g",{},g);
    
    
    const ds = mk("line",{x1:1984,x2:1996,y1:dashY[s],y2:dashY[s],stroke:colors[s],"stroke-width":s%2?2:1},sg);
    
    
    vals.forEach((v,i)=>{
      if (v===null) return;
      const cx = xs(f3X[i]);
      if (i>=15){
        const e1 = mk("line",{x1:cx,x2:cx,y1:ys(v+0.22),y2:ys(v-0.3-(i-15)*0.05),stroke:colors[s],"stroke-width":1,"stroke-opacity":0.6},sg);
        
        
        const e2 = mk("line",{x1:cx-6,x2:cx+6,y1:ys(v),y2:ys(v),stroke:colors[s],"stroke-width":1.5,"stroke-opacity":0.4},sg);
        
        
      }
      const m = marker(sg, shapes[s], cx, ys(v), 2.6, colors[s]);
      
      
    });
  });
  const rows = [679,701,722,744];
  f3Labels.forEach((lab,i)=>{
    const lg = mk("g",{},g);
    
    
    marker(lg, shapes[i], 2231, rows[i], 2.6, colors[i]);
    txt(lg, 2238, rows[i]+6, lab, 16, "start", {fill:"#222"});
  });
  const h = txt(g, 1984, 829, "PHENIX Preliminary", 13.5, "start", {fill:PINK,"font-weight":"bold"});
  
  
  const info = ["Run−5 Cu+Cu√sNN = 200 GeV/c","Gaussian filter,σ = 0.3","not corrected for pT rec scale, efficiency"];
  info.forEach((s,i)=>{
    const t = txt(g, 1984, 845+i*16.5, s, 13, "start", {fill:"#222"});
    
    
  });
})();

// ---------------- Figure 4 ----------------
(function(){
  const g = document.getElementById("fig4");
  const X0=2820, X1=3161, Y0=208, Y1=459;
  const xs = v => 2825 + (v-2.4)*220.7;
  const ys = v => 459 - v*71.7;
  frame(g, X0, Y0, X1, Y1);
  const ax = mk("g",{stroke:"#333","stroke-width":1},g);
  
  
  for (let k=0; k<=30; k++){ const v=2.4+k*0.05; if (xs(v)>X1) break; const L=(k%4===0)?8:4; mk("line",{x1:xs(v),x2:xs(v),y1:Y1,y2:Y1-L},ax); }
  for (const v of f4XTicks){
    const t = txt(g, xs(v), 477, String(v), 16, "middle");
    
    
  }
  for (let k=0; k<=35; k++){ const v=k*0.1; const L=(k%5===0)?8:4; mk("line",{x1:X0,x2:X0+L,y1:ys(v),y2:ys(v)},ax); }
  for (const v of f4YTicks){
    const t = txt(g, 2818, ys(v)+6, String(v), 16, "end");
    
    
  }
  const yt = txt(g, 0, 0, "dN/dΔφ area normalized to 1", 15, "middle", {transform:"translate(2784,312) rotate(-90)", textLength:212, lengthAdjust:"spacingAndGlyphs"});
  
  
  const xt = txt(g, 3158, 498, "Δφ", 17, "end");
  
  
  const h = txt(g, 2834, 227, "PHENIX Preliminary", 13, "start", {fill:PINK,"font-weight":"bold"});
  
  
  const info = ["Run-5 Cu+Cu √sNN = 200 GeV/c","Gaussian filter,σ = 0.3","symmetric jet-jet","7.5 <pT rec < 11.5 GeV/c"];
  info.forEach((s,i)=>{
    const t = txt(g, 2834, 245+i*18, s, 12.5, "start", {fill:"#222"});
    
    
  });
  const colors = [GRN, YEL, MAG, BLUE];
  const shapes = ["dtri","tri","square","circle"];
  const series = [f4Green, f4Yellow, f4Magenta, f4Blue];
  series.forEach((vals,s)=>{
    const sg = mk("g",{},g);
    
    
    let d = "";
    for (let k=0; k<=200; k++){
      const x = 2.38 + k*(3.92-2.38)/200;
      const y = f4FitPed[s] + f4FitAmp[s]*Math.exp(-Math.pow(x-Math.PI,2)/(2*f4FitSig[s]*f4FitSig[s]));
      d += (k?"L":"M") + xs(x).toFixed(1) + "," + ys(y).toFixed(1);
    }
    const fit = mk("path",{d:d,fill:"none",stroke:colors[s],"stroke-width":1.8,"stroke-dasharray":"4 3"},sg);
    
    
    vals.forEach((v,i)=>{
      const cx = xs(f4X[i]);
      const e = f4Err[i]*(s===0?1.3:0.8);
      const eb = mk("line",{x1:cx,x2:cx,y1:ys(v+e),y2:ys(Math.max(0,v-e)),stroke:colors[s],"stroke-width":1.2,"stroke-opacity":0.5},sg);
      
      
      const m = marker(sg, shapes[s], cx, ys(v), 2.6, colors[s]);
      
      
    });
  });
  const rows = [227,247,265,285];
  f4Labels.forEach((lab,i)=>{
    const lg = mk("g",{},g);
    
    
    marker(lg, shapes[i], 3082, rows[i], 2.6, colors[i]);
    txt(lg, 3092, rows[i]+6, lab, 15, "start", {fill:"#222"});
  });
})();
</script>
</body></html>
